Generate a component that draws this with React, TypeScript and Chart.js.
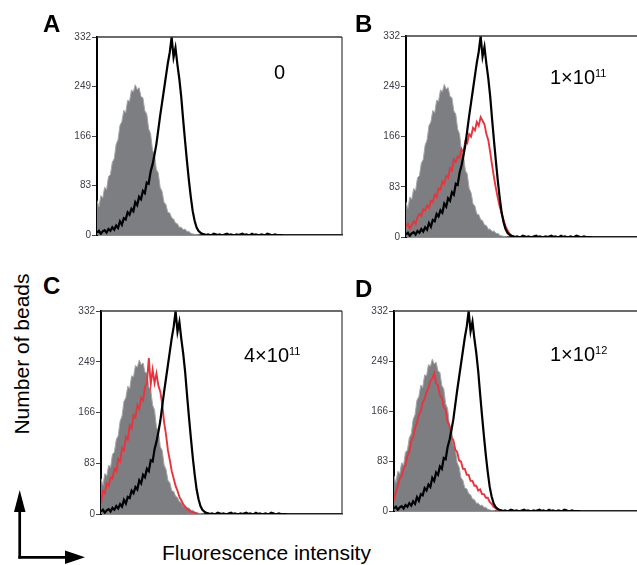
import React, { useEffect, useRef } from "react";
import { Chart, registerables } from "chart.js";

Chart.register(...registerables);

// ---------- DATA (one value per fluorescence channel, counts) ----------
const Y_TICKS = [0, 83, 166, 249, 332];

// unstained beads (grey filled histogram), same control in every panel
const CONTROL_GRAY = [
  58, 47, 66, 62, 80, 76, 98, 101, 122, 128, 152, 160, 184, 190, 209, 205, 226, 224, 243, 240,
  252, 244, 247, 232, 230, 208, 203, 178, 170, 142, 136, 110, 104, 80, 73, 55, 51, 38, 37, 29,
  27, 20, 19, 13, 13, 9, 10, 6, 6, 3, 2, 1, 1, 0, 0,
];

// beads without competitor (black histogram), same control in every panel
const CONTROL_BLACK = [
  4, 7, 2, 6, 8, 4, 10, 7, 13, 9, 16, 12, 23, 17, 28, 26, 38, 34, 44, 40,
  55, 50, 64, 60, 74, 70, 88, 86, 106, 118, 134, 152, 176, 200, 222, 244, 266, 288, 306, 332,
  298, 314, 286, 262, 232, 194, 158, 124, 92, 64, 40, 24, 13, 7, 4, 2, 1, 0,
  1, 0, 0, 2, 1, 0, 1, 0, 0, 1, 2, 0, 1, 0, 0, 1, 0, 1, 2, 0,
  1, 0, 0, 2, 0, 1, 0, 0, 1, 0, 0, 2, 1, 0, 0, 1, 0, 0, 0, 0,
];

// beads with competitor (red histograms)
const RED_1E11 = [
  17, 22, 14, 20, 26, 22, 33, 38, 35, 46, 44, 52, 48, 60, 58, 70, 66, 80, 78, 92,
  88, 101, 98, 114, 110, 128, 124, 133, 131, 145, 140, 158, 155, 170, 166, 180, 176, 190, 184, 198,
  192, 186, 170, 160, 140, 118, 98, 80, 64, 50, 38, 28, 18, 11, 6, 3, 1, 0,
];
const RED_4E11 = [
  18, 38, 34, 50, 46, 60, 58, 74, 70, 90, 86, 108, 104, 126, 122, 145, 140, 162, 158, 178,
  172, 190, 186, 208, 214, 255, 212, 236, 214, 230, 210, 200, 180, 150, 130, 104, 88, 70, 58, 46,
  38, 28, 22, 16, 12, 9, 6, 4, 3, 2, 1, 0,
];
const RED_1E12 = [
  18, 32, 42, 54, 58, 70, 76, 92, 98, 116, 122, 138, 146, 160, 166, 180, 186, 198, 204, 216,
  220, 229, 212, 208, 192, 188, 172, 168, 148, 142, 122, 118, 102, 98, 84, 82, 70, 70, 60, 60,
  50, 50, 42, 42, 34, 36, 28, 28, 22, 22, 15, 12, 7, 5, 2, 0,
];

const PANEL_LETTERS = ["A", "B", "C", "D"];
const DOSE_BASE = ["0", "1×10", "4×10", "1×10"];
const DOSE_EXP = ["", "11", "11", "12"];
const RED_SERIES = [null, RED_1E11, RED_4E11, RED_1E12];

// ---------- LAYOUT ----------
const FONT = "'Liberation Sans', Arial, Helvetica, sans-serif";
const AXIS_W = 40;
const PAD_T = 10;
const PAD_B = 10;
const PAD_R = 2;

const LAYOUT = [
  { plot: { left: 97, top: 37, width: 245, height: 198 }, xMax: 128, letter: { x: 43, y: 12 }, dose: { x: 274, y: 62 } },
  { plot: { left: 406, top: 36, width: 245, height: 201 }, xMax: 128, letter: { x: 355, y: 12 }, dose: { x: 550, y: 67 } },
  { plot: { left: 101, top: 311, width: 241, height: 203 }, xMax: 126, letter: { x: 43, y: 274 }, dose: { x: 244, y: 345 } },
  { plot: { left: 394, top: 311, width: 245, height: 200 }, xMax: 128, letter: { x: 355, y: 277 }, dose: { x: 550, y: 344 } },
];

const toPoints = (arr: number[]) => arr.map((v, i) => ({ x: i, y: v }));

const framePlugin = {
  id: "frame",
  afterDraw(chart: any) {
    const { ctx, chartArea } = chart;
    const { left, top, right, bottom } = chartArea;
    ctx.save();
    ctx.strokeStyle = "#3a3a3a";
    ctx.lineWidth = 1.5;
    ctx.beginPath();
    ctx.moveTo(left, top);
    ctx.lineTo(right, top);
    ctx.stroke();
    ctx.lineWidth = 1.2;
    ctx.beginPath();
    ctx.moveTo(right, top);
    ctx.lineTo(right, bottom);
    ctx.stroke();
    ctx.restore();
  },
};

function Panel({ index }: { index: number }) {
  const ref = useRef<HTMLCanvasElement>(null);
  const cfg = LAYOUT[index];
  const cw = cfg.plot.width + AXIS_W + PAD_R;
  const ch = cfg.plot.height + PAD_T + PAD_B;

  useEffect(() => {
    const red = RED_SERIES[index];
    const datasets: any[] = [
      {
        label: "control",
        data: toPoints(CONTROL_BLACK),
        borderColor: "#000000",
        borderWidth: 2.2,
        pointRadius: 0,
        fill: false,
        tension: 0,
        order: 1,
      },
    ];
    if (red) {
      datasets.push({
        label: "competitor",
        data: toPoints(red),
        borderColor: "#e8353d",
        borderWidth: 1.9,
        pointRadius: 0,
        fill: false,
        tension: 0,
        order: 2,
      });
    }
    datasets.push({
      label: "unstained",
      data: toPoints(CONTROL_GRAY),
      borderColor: "#a4a6a9",
      backgroundColor: "#7c7e81",
      borderWidth: 1,
      pointRadius: 0,
      fill: "origin",
      tension: 0,
      order: 3,
    });

    const chart = new Chart(ref.current as HTMLCanvasElement, {
      type: "line",
      data: { datasets },
      options: {
        animation: false,
        responsive: false,
        maintainAspectRatio: false,
        layout: { padding: { top: PAD_T, bottom: PAD_B, right: PAD_R, left: 0 } },
        plugins: { legend: { display: false }, tooltip: { enabled: false } },
        scales: {
          x: {
            type: "linear",
            min: 0,
            max: cfg.xMax,
            z: 1,
            grid: { display: false },
            border: { display: true, color: "#222222", width: 1.5 },
            ticks: { display: false },
            afterFit: (s: any) => {
              s.height = 0;
            },
          },
          y: {
            type: "linear",
            min: 0,
            max: 332,
            z: 1,
            afterBuildTicks: (s: any) => {
              s.ticks = Y_TICKS.map((v) => ({ value: v }));
            },
            afterFit: (s: any) => {
              s.width = AXIS_W;
            },
            grid: { display: true, drawOnChartArea: false, drawTicks: true, tickLength: 5, color: "#444444", lineWidth: 1 },
            border: { display: true, color: "#000000", width: 2 },
            ticks: {
              padding: 1,
              color: "#3d3d48",
              font: { family: FONT, size: 10 },
            },
          },
        },
      },
      plugins: [framePlugin],
    });
    return () => chart.destroy();
  }, [index]);

  return (
    <canvas
      ref={ref}
      width={cw}
      height={ch}
      style={{
        position: "absolute",
        left: cfg.plot.left - AXIS_W,
        top: cfg.plot.top - PAD_T,
        width: cw,
        height: ch,
      }}
    />
  );
}

export default function App() {
  const textBase: React.CSSProperties = {
    position: "absolute",
    fontFamily: FONT,
    lineHeight: 1,
    whiteSpace: "nowrap",
    color: "#000",
  };
  return (
    <div
      style={{
        position: "absolute",
        left: 0,
        top: 0,
        width: 637,
        height: 565,
        overflow: "hidden",
        background: "#fff",
      }}
    >
      {LAYOUT.map((_, i) => (
        <Panel key={i} index={i} />
      ))}
      {LAYOUT.map((cfg, i) => (
        <div
          key={"l" + i}
          style={{ ...textBase, left: cfg.letter.x, top: cfg.letter.y, fontSize: 24, fontWeight: "bold" }}
        >
          {PANEL_LETTERS[i]}
        </div>
      ))}
      {LAYOUT.map((cfg, i) => (
        <div key={"d" + i} style={{ ...textBase, left: cfg.dose.x, top: cfg.dose.y, fontSize: 20 }}>
          {DOSE_BASE[i]}
          {DOSE_EXP[i] ? (
            <span style={{ fontSize: 11, position: "relative", top: -7, lineHeight: 1 }}>{DOSE_EXP[i]}</span>
          ) : null}
        </div>
      ))}
      <div
        style={{
          ...textBase,
          left: 21,
          top: 354,
          fontSize: 21,
          transform: "translate(-50%, -50%) rotate(-90deg)",
        }}
      >
        Number of beads
      </div>
      <div style={{ ...textBase, left: 162, top: 542, fontSize: 21 }}>Fluorescence intensity</div>
      <svg width={637} height={565} style={{ position: "absolute", left: 0, top: 0, pointerEvents: "none" }}>
        <line x1={19.7} y1={558.5} x2={19.7} y2={505} stroke="#000" strokeWidth={2.7} />
        <polygon points="19.7,490 14,512 25.5,512" fill="#000" />
        <line x1={18.4} y1={557.3} x2={70} y2={557.3} stroke="#000" strokeWidth={2.7} />
        <polygon points="85,557.3 65,550.5 65,564" fill="#000" />
      </svg>
    </div>
  );
}
